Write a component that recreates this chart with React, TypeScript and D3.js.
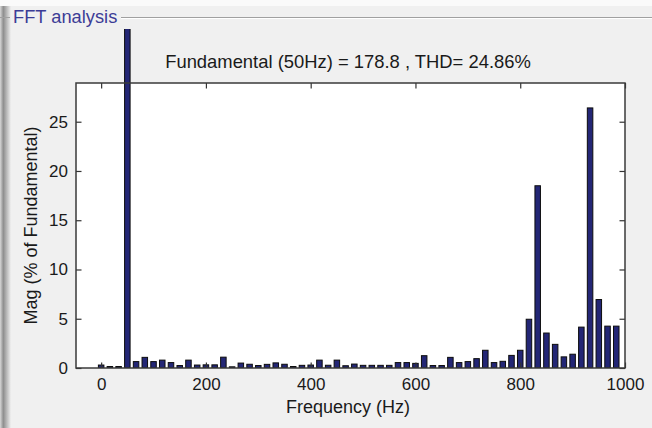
import React, { useEffect, useRef } from "react";
import { axisBottom, axisLeft, axisRight, axisTop, scaleLinear, select } from "d3";

// FFT bins, 3 cycles of 50 Hz -> 16.67 Hz per bin, bin 0 .. 59
const fundamentalHz = 50;
const binsPerCycle = 3;
// magnitude in % of fundamental (bin 3 = fundamental, 100%)
const magnitudes = [
  0.3, 0.15, 0.15, 100, 0.65, 1.08, 0.65, 0.8, 0.55, 0.25,
  0.8, 0.3, 0.32, 0.32, 1.1, 0.12, 0.5, 0.38, 0.25, 0.37,
  0.52, 0.38, 0.15, 0.27, 0.3, 0.8, 0.28, 0.8, 0.23, 0.4,
  0.27, 0.27, 0.27, 0.27, 0.55, 0.55, 0.47, 1.25, 0.25, 0.25,
  1.08, 0.55, 0.65, 0.95, 1.8, 0.55, 0.68, 1.28, 1.8, 4.95,
  18.5, 3.55, 2.4, 1.13, 1.4, 4.15, 26.4, 6.95, 4.25, 4.25,
];
const xTicks = [0, 200, 400, 600, 800, 1000];
const yTicks = [0, 5, 10, 15, 20, 25];
const titleText = "Fundamental (50Hz) = 178.8 , THD= 24.86%";

const W = 652;
const H = 428;
const LEFT = 76;
const RIGHT = 625;
const TOP = 83;
const BOTTOM = 368;
const FONT = "'Liberation Sans', Arial, sans-serif";

const App = () => {
  const svgRef = useRef<SVGSVGElement | null>(null);

  useEffect(() => {
    const svg = select(svgRef.current);
    svg.selectAll("*").remove();

    const x = scaleLinear().domain([-48, 1000]).range([LEFT, RIGHT]);
    const y = scaleLinear().domain([0, 28.93]).range([BOTTOM, TOP]);
    const binHz = fundamentalHz / binsPerCycle;
    const bw = (x(binHz) - x(0)) * 0.63;

    // background + left shadow
    const defs = svg.append("defs");
    const grad = defs
      .append("linearGradient")
      .attr("id", "shadow")
      .attr("x1", 0)
      .attr("x2", 1);
    grad.append("stop").attr("offset", 0).attr("stop-color", "#d8d8d8");
    grad.append("stop").attr("offset", 0.3).attr("stop-color", "#8e8e8e");
    grad.append("stop").attr("offset", 1).attr("stop-color", "#f0f0f0");
    // fundamental bar rises above the axes, cut at the panel
    defs
      .append("clipPath")
      .attr("id", "barclip")
      .append("rect")
      .attr("x", LEFT)
      .attr("y", 29)
      .attr("width", RIGHT - LEFT)
      .attr("height", BOTTOM - 29);

    svg.append("rect").attr("width", W).attr("height", H).attr("fill", "#f0f0f0");
    svg.append("rect").attr("width", W).attr("height", 6).attr("fill", "#fafafa");
    svg
      .append("rect")
      .attr("x", 0)
      .attr("y", 6)
      .attr("width", 11)
      .attr("height", H - 6)
      .attr("fill", "url(#shadow)");

    // panel frame "FFT analysis"
    svg
      .append("line")
      .attr("x1", 0)
      .attr("x2", 10)
      .attr("y1", 17.5)
      .attr("y2", 17.5)
      .attr("stroke", "#a0a0a0");
    svg
      .append("line")
      .attr("x1", 121)
      .attr("x2", W)
      .attr("y1", 17.5)
      .attr("y2", 17.5)
      .attr("stroke", "#a0a0a0");
    svg
      .append("line")
      .attr("x1", 121)
      .attr("x2", W)
      .attr("y1", 18.5)
      .attr("y2", 18.5)
      .attr("stroke", "#ffffff");
    svg
      .append("text")
      .attr("x", 13)
      .attr("y", 23)
      .attr("font-family", FONT)
      .attr("font-size", 18.3)
      .attr("fill", "#3c3c96")
      .text("FFT analysis");

    // plot area
    svg
      .append("rect")
      .attr("x", LEFT)
      .attr("y", TOP)
      .attr("width", RIGHT - LEFT)
      .attr("height", BOTTOM - TOP)
      .attr("fill", "#ffffff");

    // bars
    svg
      .append("g")
      .attr("clip-path", "url(#barclip)")
      .selectAll("rect")
      .data(magnitudes)
      .enter()
      .append("rect")
      .attr("x", (_, i) => x(i * binHz) - bw / 2)
      .attr("width", bw)
      .attr("y", (d) => y(d))
      .attr("height", (d) => BOTTOM - y(d))
      .attr("fill", "#232675")
      .attr("stroke", "#0c0c0c")
      .attr("stroke-width", 1);

    // axes (ticks inside, like matlab)
    const gx = svg
      .append("g")
      .attr("transform", `translate(0, ${BOTTOM})`)
      .call(
        axisBottom(x)
          .tickValues(xTicks)
          .tickFormat((d) => String(d))
          .tickSizeInner(-5.5)
          .tickSizeOuter(0)
          .tickPadding(10)
      );
    svg
      .append("g")
      .attr("transform", `translate(0, ${TOP})`)
      .call(
        axisTop(x)
          .tickValues(xTicks)
          .tickSizeInner(-5.5)
          .tickSizeOuter(0)
          .tickFormat(() => "")
      );
    const gy = svg
      .append("g")
      .attr("transform", `translate(${LEFT}, 0)`)
      .call(
        axisLeft(y)
          .tickValues(yTicks)
          .tickSizeInner(-5.5)
          .tickSizeOuter(0)
          .tickPadding(8)
      );
    svg
      .append("g")
      .attr("transform", `translate(${RIGHT}, 0)`)
      .call(
        axisRight(y)
          .tickValues(yTicks)
          .tickSizeInner(-5.5)
          .tickSizeOuter(0)
          .tickFormat(() => "")
      );
    svg.selectAll(".domain").remove();
    svg.selectAll(".tick line").attr("stroke", "#333").attr("stroke-width", 1.2);
    [gx, gy].forEach((g) =>
      g
        .selectAll("text")
        .attr("font-family", FONT)
        .attr("font-size", 17)
        .attr("fill", "#1a1a1a")
    );

    // frame on top
    svg
      .append("rect")
      .attr("x", LEFT)
      .attr("y", TOP)
      .attr("width", RIGHT - LEFT)
      .attr("height", BOTTOM - TOP)
      .attr("fill", "none")
      .attr("stroke", "#3a3a3a")
      .attr("stroke-width", 1.5);

    // title + labels
    svg
      .append("text")
      .attr("x", 348)
      .attr("y", 68)
      .attr("text-anchor", "middle")
      .attr("font-family", FONT)
      .attr("font-size", 18.4)
      .attr("fill", "#1a1a1a")
      .text(titleText);
    svg
      .append("text")
      .attr("x", 348)
      .attr("y", 413)
      .attr("text-anchor", "middle")
      .attr("font-family", FONT)
      .attr("font-size", 18)
      .attr("fill", "#1a1a1a")
      .text("Frequency (Hz)");
    svg
      .append("text")
      .attr("transform", `translate(37, ${(TOP + BOTTOM) / 2}) rotate(-90)`)
      .attr("text-anchor", "middle")
      .attr("font-family", FONT)
      .attr("font-size", 18)
      .attr("fill", "#1a1a1a")
      .text("Mag (% of Fundamental)");
  }, []);

  return (
    <svg
      ref={svgRef}
      width={W}
      height={H}
      style={{ position: "absolute", left: 0, top: 0, display: "block" }}
    ></svg>
  );
};

export default App;
